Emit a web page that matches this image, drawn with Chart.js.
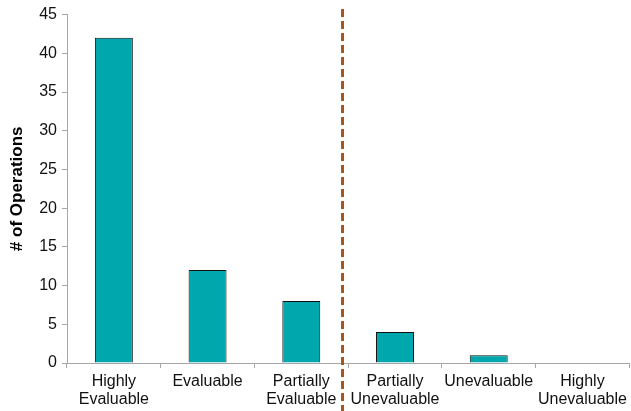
<!DOCTYPE html>
<html>
<head>
<meta charset="utf-8">
<script src="https://cdn.jsdelivr.net/npm/chart.js@4"></script>
<style>
  html, body { margin: 0; padding: 0; background: #fff; }
  #wrap { width: 631px; height: 411px; }
</style>
</head>
<body>
<div id="wrap"><canvas id="opsChart" width="631" height="411"></canvas></div>
<script>
const CATEGORIES = [
    ["Highly", "Evaluable"],
    "Evaluable",
    ["Partially", "Evaluable"],
    ["Partially", "Unevaluable"],
    "Unevaluable",
    ["Highly", "Unevaluable"]
];
const OPERATIONS = [42, 12, 8, 4, 1, 0];
const Y_MAX = 45;
const Y_STEP = 5;
// divider between the evaluable and unevaluable groups, in category units
const DIVIDER_AT = 2.44;

const AXIS_GRAY = "#A6A6A6";
const FONT = "'Liberation Sans', Arial, sans-serif";

const dividerLine = {
    id: "dividerLine",
    afterDraw(chart){
        const x = chart.scales.x.getPixelForValue(DIVIDER_AT);
        const ctx = chart.ctx;
        ctx.save();
        ctx.strokeStyle = "#A5561C";
        ctx.lineWidth = 3;
        ctx.setLineDash([8, 4]);
        ctx.beginPath();
        ctx.moveTo(x, 9);
        ctx.lineTo(x, chart.height);
        ctx.stroke();
        ctx.restore();
    }
};

new Chart(document.getElementById("opsChart"), {
    type: "bar",
    data: {
        labels: CATEGORIES,
        datasets: [{
            data: OPERATIONS,
            backgroundColor: "#00A7AD",
            borderColor: "#111",
            borderWidth: 1,
            categoryPercentage: 1,
            barPercentage: 0.405
        }]
    },
    options: {
        responsive: false,
        animation: false,
        layout: { padding: { top: 5, right: 1 } },
        plugins: {
            legend: { display: false },
            tooltip: { enabled: false }
        },
        scales: {
            x: {
                grid: {
                    drawOnChartArea: false,
                    offset: true,
                    color: AXIS_GRAY,
                    tickLength: 5
                },
                border: { color: AXIS_GRAY },
                ticks: {
                    color: "#111",
                    font: { family: FONT, size: 16, lineHeight: 1.15 },
                    maxRotation: 0,
                    autoSkip: false,
                    padding: 4
                },
                afterFit(scale){ scale.height = 48; }
            },
            y: {
                min: 0,
                max: Y_MAX,
                grid: {
                    drawOnChartArea: false,
                    color: AXIS_GRAY,
                    tickLength: 5
                },
                border: { color: AXIS_GRAY },
                ticks: {
                    stepSize: Y_STEP,
                    color: "#111",
                    font: { family: FONT, size: 16 },
                    padding: 5
                },
                title: {
                    display: true,
                    text: "# of Operations",
                    color: "#000",
                    font: { family: FONT, size: 17, weight: "bold" },
                    padding: { top: 7, bottom: 0 }
                },
                afterFit(scale){ scale.width = 67; }
            }
        }
    },
    plugins: [dividerLine]
});
</script>
</body>
</html>
